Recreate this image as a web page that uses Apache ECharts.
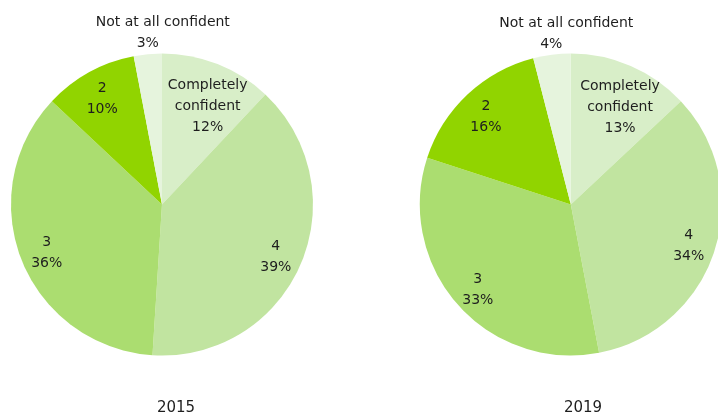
<!DOCTYPE html>
<html>
<head>
<meta charset="utf-8">
<script src="https://cdn.jsdelivr.net/npm/echarts@6/dist/echarts.min.js"></script>
<style>
  html, body { margin: 0; padding: 0; background: #fff; }
  #chart { width: 718px; height: 414px; }
</style>
</head>
<body>
<div id="chart"></div>
<script>
// Confidence levels, listed clockwise from 12 o'clock
const categories = ['Completely confident', '4', '3', '2', 'Not at all confident'];
const sliceNames = ['Completely\nconfident', '4', '3', '2', 'Not at all confident'];
const years = ['2015', '2019'];
const values2015 = [12, 39, 36, 10, 3];
const values2019 = [13, 34, 33, 16, 4];

const sliceColors = ['#d8eec8', '#c1e4a0', '#abdd70', '#91d400', '#e6f4dd'];
const FONT = 'DejaVu Sans';
const TEXT = '#1e1e1e';

const pieCenters = [['22.56%', '49.4%'], ['79.5%', '49.4%']];
const yearX = [171, 578];

function buildSeries(values, center) {
  const items = categories.map((c, i) => ({ name: c, value: values[i] }));
  const last = categories.length - 1;
  // visible pie; only the smallest slice carries an outside label
  const main = {
    type: 'pie',
    center: center,
    radius: 151,
    startAngle: 90,
    clockwise: true,
    silent: true,
    avoidLabelOverlap: false,
    itemStyle: { borderWidth: 0 },
    emphasis: { disabled: true },
    label: { show: false },
    labelLine: { show: false },
    data: items.map((d, i) => ({
      name: d.name,
      value: d.value,
      itemStyle: { color: sliceColors[i] },
      label: i === last ? {
        show: true,
        position: 'outside',
        formatter: p => sliceNames[p.dataIndex] + '\n{p|' + p.value + '%}',
        fontFamily: FONT,
        fontSize: 14,
        lineHeight: 21,
        color: TEXT,
        rich: { p: { fontFamily: FONT, fontSize: 14, lineHeight: 21, color: TEXT, padding: [0, 30, 0, 0] } }
      } : { show: false },
      labelLine: { show: false, length: 21, length2: 0 }
    })),
    labelLayout: p => (p.dataIndex === last ? { align: 'center', dx: 22 } : null)
  };
  // transparent twin pie used to place the inside labels further out
  const labels = {
    type: 'pie',
    center: center,
    radius: 242,
    startAngle: 90,
    clockwise: true,
    silent: true,
    z: 5,
    emphasis: { disabled: true },
    itemStyle: { color: 'rgba(0,0,0,0)', borderWidth: 0 },
    labelLine: { show: false },
    label: {
      show: true,
      position: 'inside',
      formatter: p => sliceNames[p.dataIndex] + '\n' + p.value + '%',
      fontFamily: FONT,
      fontSize: 14,
      lineHeight: 21,
      color: TEXT
    },
    data: items.map((d, i) => ({
      name: d.name,
      value: d.value,
      label: { show: i !== last }
    })),
    labelLayout: p => (p.dataIndex === 0 ? { dy: 17 } : { dy: 3 })
  };
  return [main, labels];
}

const chart = echarts.init(document.getElementById('chart'), null, { renderer: 'canvas' });
chart.setOption({
  backgroundColor: '#fff',
  animation: false,
  title: years.map((y, i) => ({
    text: y,
    left: yearX[i],
    top: 396,
    textAlign: 'center',
    textStyle: { fontFamily: FONT, fontSize: 15, fontWeight: 'normal', color: TEXT }
  })),
  series: [
    ...buildSeries(values2015, pieCenters[0]),
    ...buildSeries(values2019, pieCenters[1])
  ]
});
</script>
</body>
</html>
